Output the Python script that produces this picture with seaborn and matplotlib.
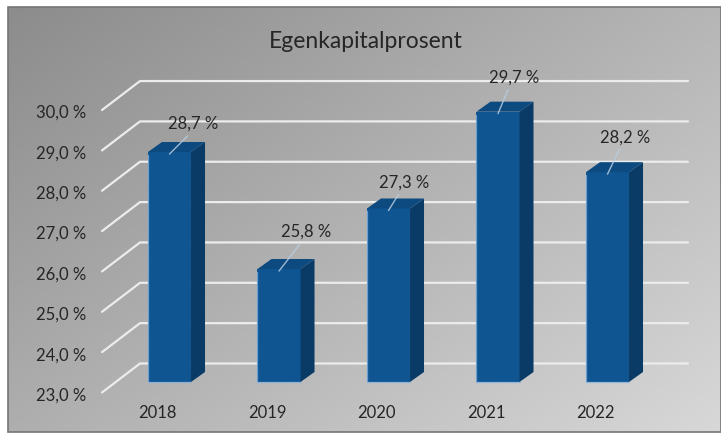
import numpy as np
import pandas as pd
import matplotlib
matplotlib.use("Agg")
import matplotlib.pyplot as plt
from matplotlib.patches import Polygon, Rectangle
from matplotlib.lines import Line2D
from matplotlib.transforms import IdentityTransform, offset_copy
import seaborn as sns

# ---- data -------------------------------------------------------------
years = ["2018", "2019", "2020", "2021", "2022"]
equity_ratio = [28.7, 25.8, 27.3, 29.7, 28.2]
y_ticks = [23, 24, 25, 26, 27, 28, 29, 30]
chart_title = "Egenkapitalprosent"

# ---- style ------------------------------------------------------------
W, H, DPI = 721, 435, 100
FRONT = "#0f5592"
SIDE = "#0a3b66"
TOP = "#0d4a80"
GLOW = "#86b3de"
GRID = "#ececec"
TEXT = "#262626"
FS = 12

# per-label nudges for the value labels (dots: right, up)
label_offsets = [(24, 29), (27, 38), (16, 27), (16, 35), (18, 36)]

sns.set_theme(style="white")
plt.rcParams["font.family"] = ["Lato", "DejaVu Sans"]


def pct(v):
    return f"{v:.1f} %".replace(".", ",")


fig = plt.figure(figsize=(W / DPI, H / DPI), dpi=DPI)
fig.patch.set_facecolor("white")

# gray panel with a diagonal gradient
bg = fig.add_axes([8 / W, 2 / H, (W - 8) / W, (H - 10) / H])
gx, gy = np.meshgrid(np.linspace(0, 1, 300), np.linspace(0, 1, 200))
t = 0.55 * gx + 0.45 * gy
c0, c1 = np.array([0x8c, 0x8c, 0x8c]) / 255, np.array([0xd8, 0xd8, 0xd8]) / 255
img = c0[None, None, :] + (c1 - c0)[None, None, :] * t[:, :, None]
bg.imshow(img, extent=(0, 1, 0, 1), origin="upper", aspect="auto")
bg.set_xlim(0, 1)
bg.set_ylim(0, 1)
bg.axis("off")
bg.add_patch(Rectangle((0, 0), 1, 1, transform=bg.transAxes, fill=False,
                       edgecolor="#767676", lw=1.2, clip_on=False))

# main plotting plane (front face of the bars)
ax = fig.add_axes([116 / W, (H - 383) / H, 548 / W, (383 - 60.2) / H])
df = pd.DataFrame({"year": years, "value": equity_ratio})
sns.barplot(data=df, x="year", y="value", color=FRONT, width=0.393,
            saturation=1, ax=ax, zorder=3)
ax.set_xlim(-0.4886, 4.516)
ax.set_ylim(23, 31)
ax.axis("off")

x_lo, x_hi = ax.get_xlim()
base = ax.get_ylim()[0]


def disp(x, y, dx=0.0, dy=0.0):
    p = ax.transData.transform((x, y))
    return (p[0] + dx, p[1] + dy)


WALL = (-14, -10.5)   # front edge of the side wall
BACK = (24, 18.5)     # back wall
DEPTH = (14, 10)      # bar depth

# gridlines: diagonal on the side wall + horizontal on the back wall
for v in y_ticks:
    p0 = disp(x_lo, v, *WALL)
    p1 = disp(x_lo, v, *BACK)
    p2 = disp(x_hi, v, *BACK)
    ax.add_line(Line2D([p0[0], p1[0], p2[0]], [p0[1], p1[1], p2[1]],
                       transform=IdentityTransform(), color=GRID, lw=1.6,
                       clip_on=False, zorder=1))
    ax.text(x_lo, v, pct(v), ha="right", va="center", fontsize=FS, color=TEXT,
            transform=offset_copy(ax.transData, fig=fig, x=WALL[0] - 16,
                                  y=WALL[1] - 2, units="dots"))

# 3D sides and tops of the bars
bars = list(ax.patches)
for bar in bars:
    bar.set_edgecolor("none")
    x0 = bar.get_x()
    x1 = x0 + bar.get_width()
    v = bar.get_height()
    lb, fb, ft = disp(x0, base), disp(x1, base), disp(x1, v)
    lt = disp(x0, v)
    side = [fb, (fb[0] + DEPTH[0], fb[1] + DEPTH[1]),
            (ft[0] + DEPTH[0], ft[1] + DEPTH[1]), ft]
    top = [lt, ft, (ft[0] + DEPTH[0], ft[1] + DEPTH[1]),
           (lt[0] + DEPTH[0], lt[1] + DEPTH[1])]
    ax.add_patch(Polygon(side, closed=True, transform=IdentityTransform(),
                         facecolor=SIDE, edgecolor="none", clip_on=False, zorder=3))
    ax.add_patch(Polygon(top, closed=True, transform=IdentityTransform(),
                         facecolor=TOP, edgecolor="none", clip_on=False, zorder=3))
    # soft light rim along the left and bottom edges of the front face
    ax.add_line(Line2D([lt[0], lb[0], fb[0]], [lt[1] - 3, lb[1], fb[1]],
                       transform=IdentityTransform(), color=GLOW, lw=0.9,
                       alpha=0.8, clip_on=False, zorder=3.5))

# value labels with leader lines
for i, (v, (ox, oy)) in enumerate(zip(equity_ratio, label_offsets)):
    ax.text(i, v, pct(v), ha="center", va="center", fontsize=FS, color=TEXT,
            transform=offset_copy(ax.transData, fig=fig, x=ox, y=oy, units="dots"),
            zorder=5)
    s = disp(i, v, 0, -2)
    e = disp(i, v, ox - 6, oy - 13)
    ax.add_line(Line2D([s[0], e[0]], [s[1], e[1]], transform=IdentityTransform(),
                       color="#b9cde0", lw=1, alpha=0.85, clip_on=False, zorder=4))

# category labels on the floor edge
for i, yr in enumerate(years):
    ax.text(i, base, yr, ha="center", va="center", fontsize=FS, color=TEXT,
            transform=offset_copy(ax.transData, fig=fig, x=-12, y=-30, units="dots"))

fig.text(366 / W, 1 - 42 / H, chart_title, ha="center", va="center",
         fontsize=16.5, color=TEXT)

fig.savefig("out.png", dpi=DPI)
